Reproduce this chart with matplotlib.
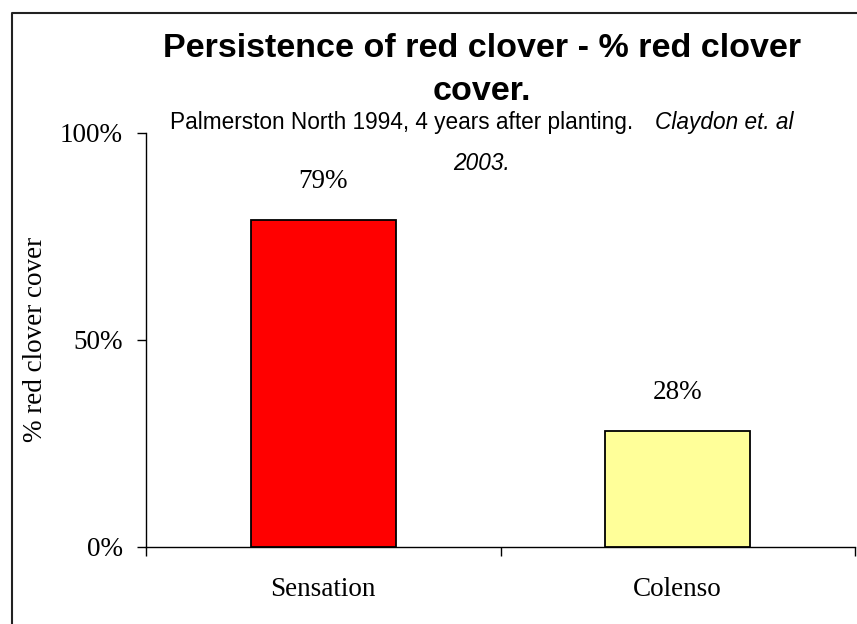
import numpy as np
import matplotlib
matplotlib.use('Agg')
import matplotlib.pyplot as plt
from matplotlib.lines import Line2D
from matplotlib.ticker import PercentFormatter

# data
categories = ['Sensation', 'Colenso']
cover = [0.79, 0.28]
bar_colors = ['#FF0000', '#FFFF99']
y_ticks = [0, 0.5, 1.0]

title1 = 'Persistence of red clover - % red clover'
title2 = 'cover.'
sub_plain = 'Palmerston North 1994, 4 years after planting.'
sub_italic1 = 'Claydon et. al'
sub_italic2 = '2003.'
ylabel = '% red clover cover'

W, H = 857, 624
fig = plt.figure(figsize=(W / 100, H / 100), dpi=100)
fig.patch.set_facecolor('white')

# axes placed in pixel units
left, right, bottom, top = 146, 855, 546.7, 133
ax = fig.add_axes([left / W, 1 - bottom / H, (right - left) / W, (bottom - top) / H])

serif = 'Liberation Serif'
sans = 'Liberation Sans'

x = np.arange(len(categories))
ax.bar(x, cover, width=0.41, color=bar_colors, edgecolor='black', linewidth=1.3, zorder=3)

for i in range(len(cover)):
    ax.annotate('%d%%' % round(cover[i] * 100), (x[i], cover[i]), xytext=(0, 23),
                textcoords='offset points', ha='center', va='baseline',
                fontsize=19.5, family=serif)

ax.set_xlim(-0.5, len(categories) - 0.5)
ax.set_ylim(0, 1.0)

ax.set_xticks(np.arange(len(categories) + 1) - 0.5)
ax.set_xticklabels([])
ax.set_xticks(x, minor=True)
ax.set_xticklabels(categories, minor=True, fontsize=19.5, family=serif)
ax.tick_params(axis='x', which='major', direction='out', length=6.5, width=1)
ax.tick_params(axis='x', which='minor', length=0, pad=22)

ax.set_yticks(y_ticks)
ax.yaxis.set_major_formatter(PercentFormatter(1.0, decimals=0))
ax.tick_params(axis='y', direction='out', length=6.5, width=1, pad=10, labelsize=19.5)
for lab in ax.get_yticklabels():
    lab.set_family(serif)

ax.spines['top'].set_visible(False)
ax.spines['right'].set_visible(False)
ax.spines['left'].set_linewidth(1)
ax.spines['bottom'].set_linewidth(1)

ax.set_ylabel(ylabel, fontsize=19.5, family=serif, va='center')
ax.yaxis.set_label_coords((36 - left) / (right - left), 0.5)

# title, two lines
cx = 482 / W
fig.text(cx, 1 - 56.7 / H, title1, ha='center', va='baseline', fontsize=24.5,
         fontweight='bold', family=sans)
fig.text(cx, 1 - 100 / H, title2, ha='center', va='baseline', fontsize=24.5,
         fontweight='bold', family=sans)

# subtitle: plain part then italic part on one line
renderer = fig.canvas.get_renderer()
t1 = fig.text(0, 1 - 129 / H, sub_plain, ha='left', va='baseline', fontsize=16.3, family=sans)
t2 = fig.text(0, 1 - 129 / H, sub_italic1, ha='left', va='baseline', fontsize=16.3,
              family=sans, style='italic')
w1 = t1.get_window_extent(renderer).width
w2 = t2.get_window_extent(renderer).width
gap = 22
start = 482 - (w1 + gap + w2) / 2
t1.set_x(start / W)
t2.set_x((start + w1 + gap) / W)
fig.text(cx, 1 - 170 / H, sub_italic2, ha='center', va='baseline', fontsize=16.3,
         family=sans, style='italic')

# chart frame (only top and left show, rest is cropped)
fig.add_artist(Line2D([12 / W, 12 / W, 1], [0, 1 - 12.7 / H, 1 - 12.7 / H],
                      transform=fig.transFigure, color='#222222', linewidth=1.5))

fig.savefig('out.png', dpi=100)
